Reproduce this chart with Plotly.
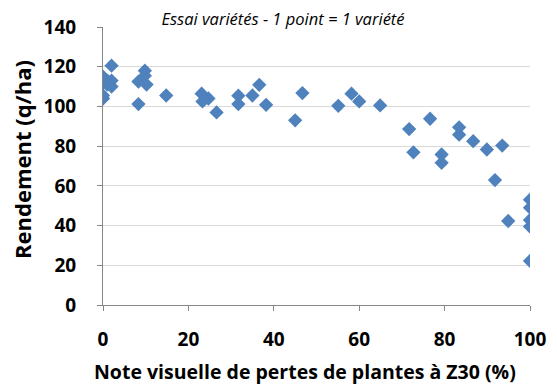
import plotly.graph_objects as go

pertes = [0, 0, 0, 0, 1, 1, 2, 2, 2,
          8.3, 8.3, 9.8, 9.8, 10.2, 14.8,
          23.1, 23.3, 24.7, 26.6, 31.7, 31.7, 35, 36.6, 38.2,
          45, 46.7, 55.1, 58.2, 60, 64.9,
          71.7, 72.7, 76.6, 79.3, 79.3, 83.4, 83.4, 86.7, 89.9, 91.8, 93.5, 94.9,
          100, 100, 100, 100, 100]
rendement = [104, 105.5, 112, 115, 113, 111, 120.5, 113, 110,
             112.5, 101.2, 118, 115.5, 111, 105.5,
             106.4, 102.5, 104, 97, 105.4, 101.2, 105.5, 110.9, 100.8,
             93, 106.7, 100.3, 106.4, 102.5, 100.5,
             88.6, 76.9, 93.8, 75.8, 71.6, 89.5, 85.8, 82.5, 78.3, 62.9, 80.3, 42.3,
             53, 49, 42.8, 39.5, 22.2]

titre = "Essai variétés - 1 point = 1 variété"
titre_x = "Note visuelle de pertes de plantes à Z30 (%)"
titre_y = "Rendement (q/ha)"

fig = go.Figure(go.Scatter(
    x=pertes, y=rendement, mode="markers",
    marker=dict(symbol="diamond", size=11, color="#4F81BD"),
))

# The page body adds an 8 px offset, so the figure covers the visible 549x377 area.
W, H = 549, 377
L, R, T, B = 95, 27, 19, 80
PW, PH = W - L - R, H - T - B
font = "'Open Sans', Lato, sans-serif"

def px_to_paper(x, y):
    return (x - L) / PW, 1 - (y - T) / PH

fig.update_layout(
    width=W, height=H,
    margin=dict(l=L, r=R, t=T, b=B),
    paper_bgcolor="white", plot_bgcolor="white",
    showlegend=False,
    font=dict(family=font, color="#000000"),
    title=dict(text="<i>" + titre + "</i>",
               x=275/W, xanchor="center", y=1-11.5/H, yanchor="middle",
               font=dict(size=16.5, family=font, color="#000000")),
)
ax, ay = px_to_paper(297, 363)
bx, by = px_to_paper(14, 152)
fig.add_annotation(text="<b>" + titre_x + "</b>", xref="paper", yref="paper",
                   x=ax, y=ay, xanchor="center", yanchor="middle", showarrow=False,
                   font=dict(size=19.5, family=font, color="#000000"))
fig.add_annotation(text="<b>" + titre_y + "</b>", xref="paper", yref="paper",
                   x=bx, y=by, xanchor="center", yanchor="middle", showarrow=False,
                   textangle=-90, borderpad=0,
                   font=dict(size=22, family=font, color="#000000"))
fig.update_xaxes(
    range=[0, 100], dtick=20, tick0=0, automargin=False,
    showgrid=False, zeroline=False,
    showline=True, linecolor="#868686", linewidth=1,
    ticks="outside", ticklen=5, tickcolor="#868686",
    tickfont=dict(size=19, family=font, weight="bold"),
    ticklabelstandoff=12,
)
fig.update_yaxes(
    range=[0, 140], dtick=20, tick0=0, automargin=False,
    showgrid=True, gridcolor="#D9D9D9", gridwidth=1,
    zeroline=False,
    showline=True, linecolor="#868686", linewidth=1,
    ticks="outside", ticklen=5, tickcolor="#868686",
    tickfont=dict(size=19, family=font, weight="bold"),
    ticklabelstandoff=17,
)

fig.write_html("out.html")
